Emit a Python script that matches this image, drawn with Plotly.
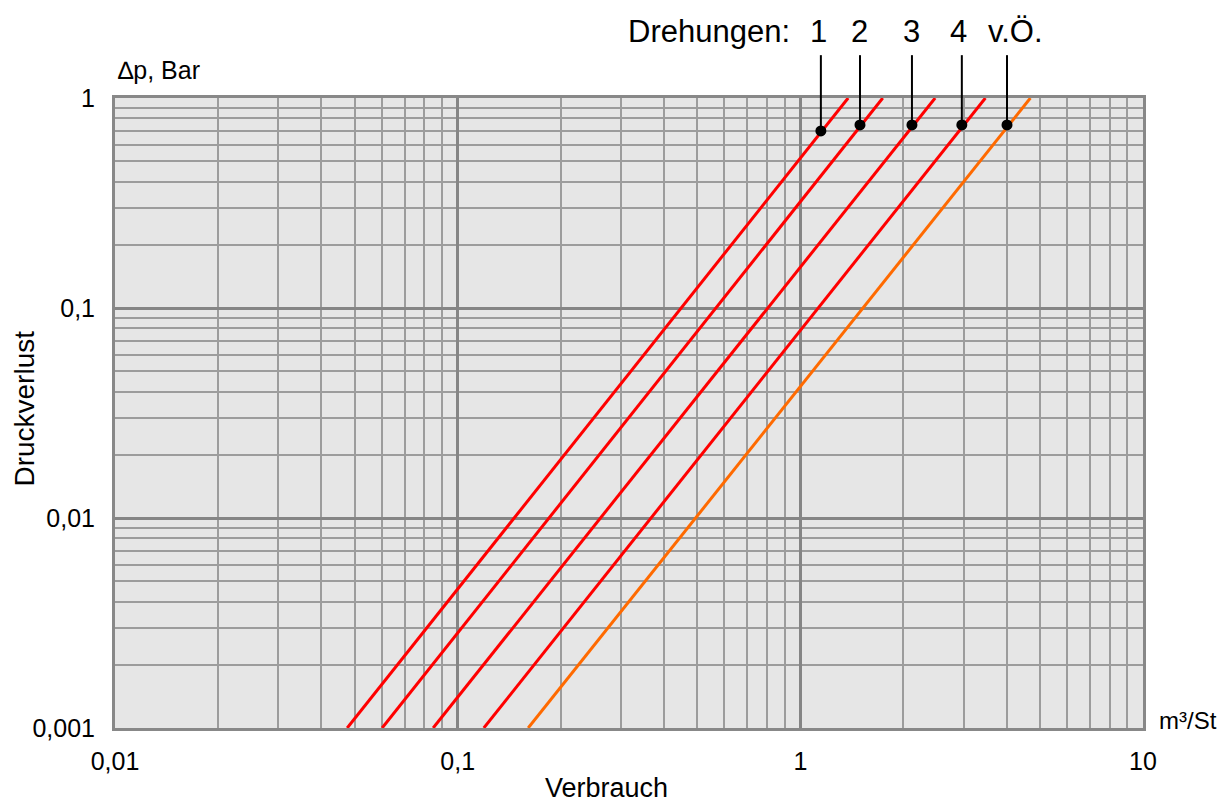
import math
import plotly.graph_objects as go

# ---- data ----
series_names = ["1", "2", "3", "4", "v.Ö."]
series_colors = ["#ff0000", "#ff0000", "#ff0000", "#ff0000", "#ff6a00"]
dp_ends = [0.001, 1.0]                       # Druckverlust, Bar
flow_at_0001 = [0.0476, 0.0602, 0.0848, 0.1192, 0.1606]   # m³/St at 0.001 Bar
flow_at_1 = [1.379, 1.740, 2.474, 3.468, 4.692]           # m³/St at 1 Bar
marker_flow = [1.148, 1.493, 2.117, 2.960, 4.010]
marker_dp = [0.697, 0.744, 0.744, 0.744, 0.744]

x_tickvals = [0.01, 0.1, 1, 10]
x_ticktext = ["0,01", "0,1", "1", "10"]
y_tickvals = [0.001, 0.01, 0.1, 1]
y_ticktext = ["0,001", "0,01", "0,1", "1"]

FONT = "Liberation Sans, Arial, sans-serif"

fig = go.Figure()
for name, col, q0, q1 in zip(series_names, series_colors, flow_at_0001, flow_at_1):
    fig.add_trace(go.Scatter(x=[q0, q1], y=dp_ends, mode="lines",
                             line=dict(color=col, width=3), name=name,
                             showlegend=False, hoverinfo="skip"))

fig.add_trace(go.Scatter(x=marker_flow, y=marker_dp, mode="markers",
                         marker=dict(color="black", size=11), showlegend=False,
                         cliponaxis=False, hoverinfo="skip"))

y_lo, y_hi = math.log10(y_tickvals[0]), math.log10(y_tickvals[-1])
top_paper = 1.068
shapes = []
for q, d in zip(marker_flow, marker_dp):
    py = (math.log10(d) - y_lo) / (y_hi - y_lo)
    shapes.append(dict(type="line", xref="x", yref="paper", x0=q, x1=q,
                       y0=py, y1=top_paper, line=dict(color="black", width=2),
                       layer="above"))

annotations = []
label_shift = [-2, 0, 0, -3, 8]
for name, q, s in zip(series_names, marker_flow, label_shift):
    annotations.append(dict(text=name, xref="x", yref="paper", x=math.log10(q),
                            y=1.105, xshift=s, showarrow=False, xanchor="center",
                            yanchor="middle", font=dict(size=31, color="black", family=FONT)))
annotations.append(dict(text="Drehungen:", xref="paper", yref="paper", x=0.659, y=1.105,
                        showarrow=False, xanchor="right", yanchor="middle",
                        font=dict(size=31, color="black", family=FONT)))
annotations.append(dict(text="∆p, Bar", xref="paper", yref="paper", x=0, y=1.045,
                        xshift=1, showarrow=False, xanchor="left", yanchor="middle",
                        font=dict(size=25, color="black", family=FONT)))
annotations.append(dict(text="m³/St", xref="paper", yref="paper", x=1, y=0.012,
                        xshift=14, showarrow=False, xanchor="left", yanchor="middle",
                        font=dict(size=24, color="black", family=FONT)))
annotations.append(dict(text="Druckverlust", xref="paper", yref="paper", x=0, y=0.507,
                        xshift=-90, showarrow=False, xanchor="center", yanchor="middle",
                        textangle=-90, font=dict(size=28, color="black", family=FONT)))
annotations.append(dict(text="Verbrauch", xref="paper", yref="paper", x=0.478, y=-0.096,
                        showarrow=False, xanchor="center", yanchor="middle",
                        font=dict(size=27, color="black", family=FONT)))

def minor_vals(lo, hi):
    vals = []
    for e in range(lo, hi):
        for m in range(2, 10):
            vals.append(m * 10 ** e)
    return vals

axis_common = dict(type="log", showline=True, mirror=True, linecolor="#888888",
                   linewidth=3, gridcolor="#858585", gridwidth=2.5, zeroline=False,
                   ticks="", tickfont=dict(size=25, color="black", family=FONT))

fig.update_xaxes(**axis_common, range=[-2, 1], tickvals=x_tickvals, ticktext=x_ticktext,
                 ticklabelstandoff=9,
                 minor=dict(tickvals=minor_vals(-2, 1), showgrid=True,
                            gridcolor="#9c9c9c", gridwidth=1.5, ticks=""))
fig.update_yaxes(**axis_common, range=[-3, 0], tickvals=y_tickvals, ticktext=y_ticktext,
                 ticklabelstandoff=12,
                 minor=dict(tickvals=minor_vals(-3, 0), showgrid=True,
                            gridcolor="#9c9c9c", gridwidth=1.5, ticks=""))

# page body has an 8px default margin; compensate so the plot lands where the reference has it
fig.update_layout(width=1219, height=799, margin=dict(l=107, r=84, t=90, b=79),
                  paper_bgcolor="white", plot_bgcolor="#e6e6e6",
                  shapes=shapes, annotations=annotations, showlegend=False,
                  font=dict(family=FONT, color="black"))

fig.write_html("out.html")
